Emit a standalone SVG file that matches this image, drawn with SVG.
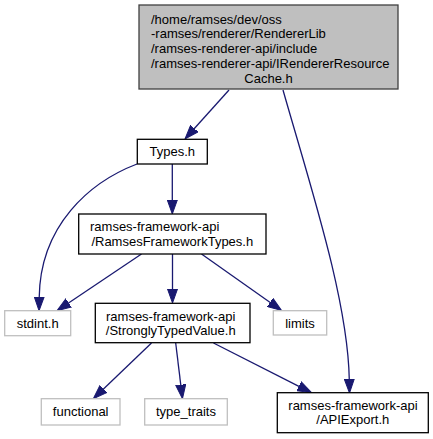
<svg xmlns="http://www.w3.org/2000/svg" width="433" height="439" viewBox="0 0 433 439">
<defs>
<style>
.n rect{fill:#ffffff;stroke:#000000;stroke-width:1.3}
.n.root rect{fill:#bfbfbf;stroke:#404040}
.n.ext rect{stroke:#bfbfbf}
.n text{font-family:"Liberation Sans",Arial,Helvetica,sans-serif;font-size:13px;fill:#000000}
.m{text-anchor:middle}
#edges path{fill:none;stroke:#191970;stroke-width:1.3;marker-end:url(#ah)}
</style>
<marker id="ah" viewBox="0 0 14 11" refX="1" refY="5.5" markerWidth="14" markerHeight="11" markerUnits="userSpaceOnUse" orient="auto">
<path d="M0,0.5 L14,5.5 L0,10.5 z" fill="#191970" stroke="#191970" stroke-width="1"/>
</marker>
</defs>
<rect width="433" height="439" fill="#ffffff"/>
<g id="edges">
<path d="M229,90 L193.7,129.3"/>
<path d="M283,90 C310,185 348,300 349.3,380"/>
<path d="M137,164 C90,182 40,225 39.2,297.7"/>
<path d="M172.3,164 L172.3,201"/>
<path d="M141.5,254 L67.8,303.5"/>
<path d="M172.5,254 L172.5,290"/>
<path d="M201.5,254 L270.9,303"/>
<path d="M151.5,343 L102.7,389.7"/>
<path d="M175.7,343 L180.9,385.8"/>
<path d="M213.5,343 L299.9,386.8"/>
</g>
<g id="node_root" class="n root">
<rect x="139" y="5" width="259" height="84"/>
<text x="151" y="23.5">/home/ramses/dev/oss</text>
<text x="151" y="38.3">-ramses/renderer/RendererLib</text>
<text x="151" y="53.1">/ramses-renderer-api/include</text>
<text x="151" y="67.9">/ramses-renderer-api/IRendererResource</text>
<text class="m" x="268.5" y="82.7">Cache.h</text>
</g>
<g id="node_types" class="n">
<rect x="137.3" y="139.3" width="70" height="24.7"/>
<text class="m" x="172.3" y="156.3">Types.h</text>
</g>
<g id="node_rft" class="n">
<rect x="78.7" y="214" width="187.3" height="40"/>
<text x="90" y="231">ramses-framework-api</text>
<text class="m" x="172.3" y="245.5">/RamsesFrameworkTypes.h</text>
</g>
<g id="node_stdint" class="n ext">
<rect x="4.7" y="310.7" width="66" height="25"/>
<text class="m" x="37.7" y="327.5">stdint.h</text>
</g>
<g id="node_stv" class="n">
<rect x="95.3" y="303.3" width="154.7" height="39.4"/>
<text x="106" y="321">ramses-framework-api</text>
<text class="m" x="170.7" y="335">/StronglyTypedValue.h</text>
</g>
<g id="node_limits" class="n ext">
<rect x="273.3" y="310.7" width="53.4" height="24.3"/>
<text class="m" x="300" y="327.5">limits</text>
</g>
<g id="node_functional" class="n ext">
<rect x="41.3" y="398.7" width="78.7" height="26.3"/>
<text class="m" x="80.7" y="415.5">functional</text>
</g>
<g id="node_typetraits" class="n ext">
<rect x="144.7" y="398.7" width="82.6" height="26.3"/>
<text class="m" x="186" y="415.5">type_traits</text>
</g>
<g id="node_apiexport" class="n">
<rect x="277.3" y="392.7" width="151" height="40"/>
<text x="288.3" y="410">ramses-framework-api</text>
<text class="m" x="352.8" y="423.5">/APIExport.h</text>
</g>
</svg>
